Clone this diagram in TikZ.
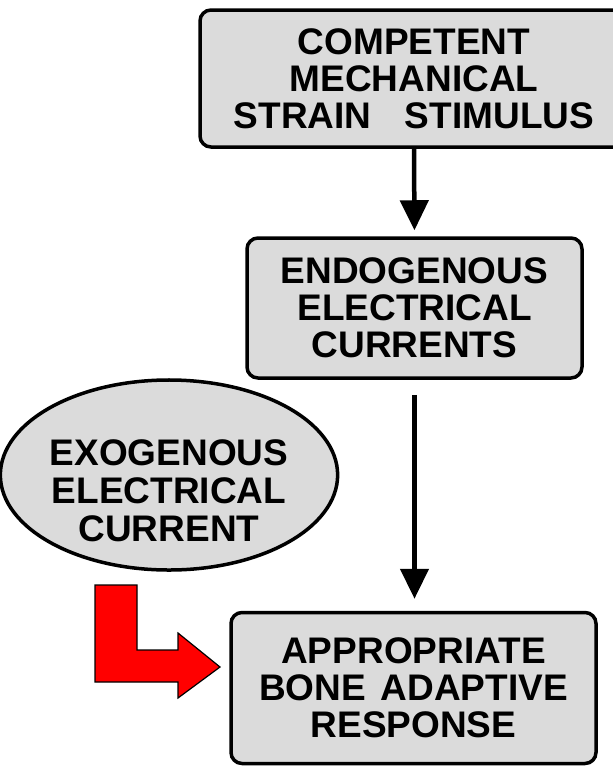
\documentclass[tikz,border=0pt]{standalone}
\usepackage{fontspec}
\setmainfont{Liberation Sans}
\usepackage{tikz}
\usetikzlibrary{arrows.meta}
\usetikzlibrary{shapes.geometric}
\tikzset{>=stealth}
\tikzset{
    stagebox/.style={draw=black, line width=3.5pt, rounded corners=11pt, fill=black!14,
        align=center, inner sep=0pt, font=\fontsize{37}{37}\selectfont\bfseries},
    sourceoval/.style={ellipse, draw=black, line width=3.5pt, fill=black!14,
        align=center, inner sep=0pt, font=\fontsize{37}{38}\selectfont\bfseries},
    flow/.style={-{Triangle[length=30pt,width=28pt]}, line width=4.5pt}
}

\begin{document}
\begin{tikzpicture}[x=1pt,y=-1pt]
        \useasboundingbox (0,0) rectangle (613,766);
        \clip (0,0) rectangle (613,766);
        \node[stagebox, minimum width=428pt, minimum height=137pt] (strain) at (414, 78.5)
            {COMPETENT\\MECHANICAL\\STRAIN\hspace{0.9em}STIMULUS};
        \node[stagebox, minimum width=335pt, minimum height=140pt] (endo) at (414.5, 308)
            {ENDOGENOUS\\ELECTRICAL\\CURRENTS};
        \node[stagebox, minimum width=365pt, minimum height=151pt] (resp) at (413.5, 688)
            {APPROPRIATE\\BONE\hspace{0.4em}ADAPTIVE\\RESPONSE};
        \node[sourceoval, minimum width=312pt, minimum height=190pt] (exo) at (169, 475)
            {\rule{0pt}{58pt}EXOGENOUS\\ELECTRICAL\\CURRENT};

        \draw[flow, shorten >=6pt] (strain.south) -- (endo.north);
        \draw[flow, shorten <=15pt, shorten >=12pt] (endo.south) -- (endo.south |- resp.north);

        % red arrow from the oval into the response box
        \draw[fill=red, line width=1.2pt, line join=miter]
            (95,585) -- (137,585) -- (137,650) -- (178,650) -- (178,633) -- (220,667)
            -- (178,698) -- (178,682) -- (95,682) -- cycle;
    \end{tikzpicture}
\end{document}
